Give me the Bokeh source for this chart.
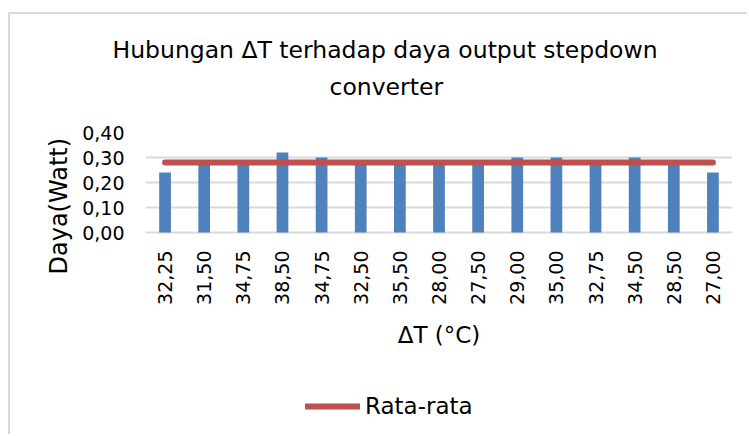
import math
import numpy as np
from bokeh.plotting import figure
from bokeh.models import (Range1d, FixedTicker, Legend, LegendItem, Title,
                          ColumnDataSource)
from bokeh.embed import file_html
from bokeh.resources import INLINE

# ---- data ----
delta_t_labels = ["32,25", "31,50", "34,75", "38,50", "34,75", "32,50", "35,50",
                  "28,00", "27,50", "29,00", "35,00", "32,75", "34,50", "28,50", "27,00"]
daya_values = [0.24, 0.28, 0.28, 0.32, 0.30, 0.28, 0.28, 0.28, 0.28, 0.30,
               0.30, 0.28, 0.30, 0.28, 0.24]
rata_rata = [0.28, 0.28, 0.28, 0.28, 0.28, 0.28, 0.28, 0.28, 0.28, 0.28,
             0.28, 0.28, 0.28, 0.28, 0.28]
y_ticks = [0.0, 0.1, 0.2, 0.3, 0.4]
y_tick_labels = ["0,00", "0,10", "0,20", "0,30", "0,40"]
title_lines = ["Hubungan \u0394T terhadap daya output stepdown", "converter"]
x_title = "\u0394T (\u00b0C)"
y_title = "Daya(Watt)"
series_name = "Rata-rata"

FONT = "DejaVu Sans"
NBSP = "\u00a0"
xpos = list(np.arange(len(delta_t_labels)) + 0.5)

src = ColumnDataSource(dict(x=xpos, daya=daya_values, avg=rata_rata))

# frame spans the plot area plus the space below it (axis labels and legend
# are drawn inside it); the value axis shows only 0..0.40
p = figure(width=739, height=422, output_backend="svg", toolbar_location=None,
           x_range=Range1d(0, len(delta_t_labels)), y_range=Range1d(-0.8, 0.4),
           min_border_left=135, min_border_right=17, min_border_top=118,
           min_border_bottom=4)
p.styles = {"margin-left": "8px", "margin-top": "12px",
            "border-left": "2px solid #d9d9d9", "border-top": "2px solid #d9d9d9"}
p.outline_line_color = None
p.background_fill_color = "white"
p.border_fill_color = "white"

p.vbar(x="x", top="daya", width=0.3, source=src, fill_color="#4F81BD",
       line_color=None)
r_avg = p.line(x="x", y="avg", source=src, line_color="#C0504D", line_width=6,
               line_cap="round")

# category axis drawn at value 0
p.xaxis.fixed_location = 0
p.xaxis.ticker = FixedTicker(ticks=xpos)
p.xaxis.major_label_overrides = {float(x): lab for x, lab in zip(xpos, delta_t_labels)}
p.xaxis.major_label_orientation = math.pi / 2
p.xaxis.axis_line_color = None
p.xaxis.major_tick_line_color = None
p.xaxis.minor_tick_line_color = None
p.xaxis.major_tick_out = 0
p.xaxis.major_tick_in = 0
p.xaxis.major_label_standoff = 18
p.xaxis.major_label_text_font = FONT
p.xaxis.major_label_text_font_size = "19px"
p.xaxis.major_label_text_color = "#000000"
p.xaxis.axis_label = x_title
p.xaxis.axis_label_text_font = FONT
p.xaxis.axis_label_text_font_size = "23px"
p.xaxis.axis_label_text_font_style = "normal"
p.xaxis.axis_label_text_color = "#000000"
p.xaxis.axis_label_standoff = 14

p.yaxis.ticker = FixedTicker(ticks=y_ticks)
p.yaxis.major_label_overrides = {t: lab for t, lab in zip(y_ticks, y_tick_labels)}
p.yaxis.axis_line_color = None
p.yaxis.major_tick_line_color = None
p.yaxis.minor_tick_line_color = None
p.yaxis.major_tick_out = 0
p.yaxis.major_tick_in = 0
p.yaxis.major_label_standoff = 21
p.yaxis.major_label_text_font = FONT
p.yaxis.major_label_text_font_size = "19px"
p.yaxis.major_label_text_color = "#000000"
# leading no-break spaces move the visible title up beside the plot area
p.yaxis.axis_label = NBSP * 20 + y_title
p.yaxis.axis_label_text_font = FONT
p.yaxis.axis_label_text_font_size = "24px"
p.yaxis.axis_label_text_font_style = "normal"
p.yaxis.axis_label_text_color = "#000000"
p.yaxis.axis_label_standoff = 6

p.xgrid.grid_line_color = None
p.ygrid.ticker = FixedTicker(ticks=y_ticks)
p.ygrid.grid_line_color = "#d9d9d9"
p.ygrid.grid_line_width = 2

# title (two lines, stacked above, with a spacer next to the plot area)
p.add_layout(Title(text=NBSP, text_font_size="2px", standoff=23), "above")
p.add_layout(Title(text=title_lines[1], align="left", offset=184,
                   text_font=FONT, text_font_size="23.5px",
                   text_font_style="normal", text_color="#000000",
                   standoff=10), "above")
p.add_layout(Title(text=title_lines[0], align="left", offset=-33,
                   text_font=FONT, text_font_size="23.5px",
                   text_font_style="normal", text_color="#000000",
                   standoff=4), "above")

legend = Legend(items=[LegendItem(label=series_name, renderers=[r_avg])],
                location=(160, 13), orientation="horizontal",
                glyph_width=55, glyph_height=24, label_standoff=5, padding=0,
                margin=0, border_line_color=None, background_fill_alpha=0,
                label_text_font=FONT, label_text_font_size="23px",
                label_text_color="#000000")
p.add_layout(legend, "center")

open("out.html", "w").write(file_html(p, INLINE))
